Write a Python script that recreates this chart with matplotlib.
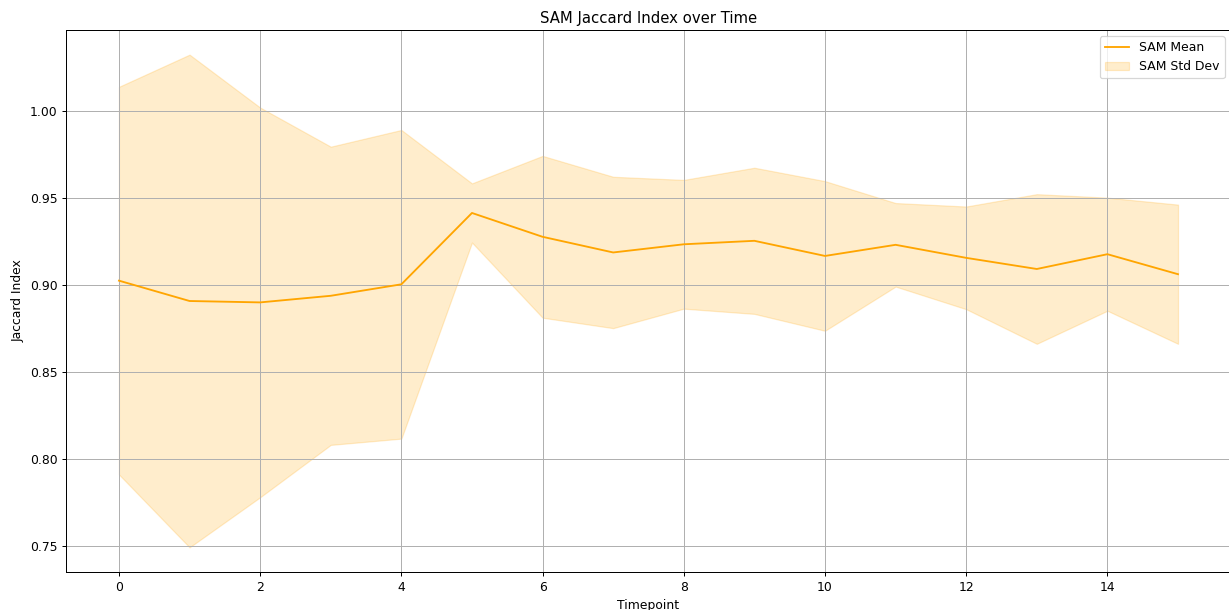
import matplotlib
matplotlib.use('Agg')
import matplotlib.pyplot as plt
import numpy as np

# SAM Jaccard index per timepoint
timepoints = np.arange(16)
sam_mean = [0.9026, 0.8909, 0.8901, 0.8939, 0.9005, 0.9415, 0.9278, 0.9188,
            0.9235, 0.9255, 0.9168, 0.9232, 0.9157, 0.9093, 0.9178, 0.9063]
sam_std = [0.1114, 0.1416, 0.1120, 0.0857, 0.0887, 0.0170, 0.0465, 0.0435,
           0.0370, 0.0420, 0.0430, 0.0240, 0.0295, 0.0430, 0.0325, 0.0400]

mean = np.array(sam_mean)
std = np.array(sam_std)

dpi = 89
fig = plt.figure(figsize=(1229 / dpi, 610 / dpi), dpi=dpi)
ax = fig.add_axes([0.0537, 0.0623, 0.9479, 0.8885])

ax.plot(timepoints, mean, color='orange', label='SAM Mean')
ax.fill_between(timepoints, mean - std, mean + std, color='orange',
                alpha=0.2, label='SAM Std Dev')

ax.set_title('SAM Jaccard Index over Time')
ax.set_xlabel('Timepoint')
ax.set_ylabel('Jaccard Index')
ax.legend(loc='upper right')
ax.grid(True)

fig.savefig('out.png', dpi=dpi)
